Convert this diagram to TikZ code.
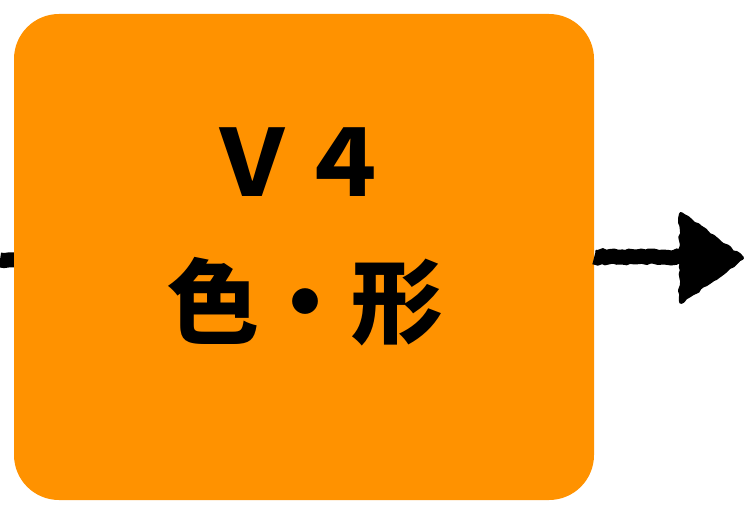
\documentclass[tikz,border=0pt]{standalone}
\usepackage{fontspec}
\newfontfamily\cjk{Noto Sans CJK JP}
\usetikzlibrary{decorations.pathmorphing}
\definecolor{boxorange}{RGB}{255,146,0}
\tikzset{
  box/.style={draw=none,fill=boxorange,rounded corners=45pt,minimum width=580pt,minimum height=486pt,inner sep=0pt},
  lbl/.style={font=\cjk\bfseries\fontsize{92}{100}\selectfont,text=black,inner sep=0pt,anchor=center},
  sketch/.style={line width=15pt,black,line cap=butt,decorate,decoration={random steps,segment length=4pt,amplitude=1pt}},
  sketchhead/.style={fill=black,draw=black,line width=4pt,line join=round,decorate,decoration={random steps,segment length=4pt,amplitude=1.2pt}},
}
\begin{document}
\begin{tikzpicture}[x=1pt,y=-1pt]
\useasboundingbox (0,0) rectangle (745,505);
\node[box] (v4box) at (304,257) {};
\node[lbl] (v4) at (298,162) {Ｖ４};
\node[lbl] (cs) at (305,302) {色・形};
\coordinate (in) at (0,260);
\coordinate (hb) at (684,257);
\coordinate (htop) at (681,214);
\coordinate (hbot) at (681,302);
\coordinate (tip) at (742,258);
\draw[sketch] (in) -- (v4box.west |- in);
\draw[sketch] (v4box.east) -- (hb);
\path[sketchhead] (htop) -- (tip) -- (hbot) -- cycle;
\end{tikzpicture}
\end{document}
